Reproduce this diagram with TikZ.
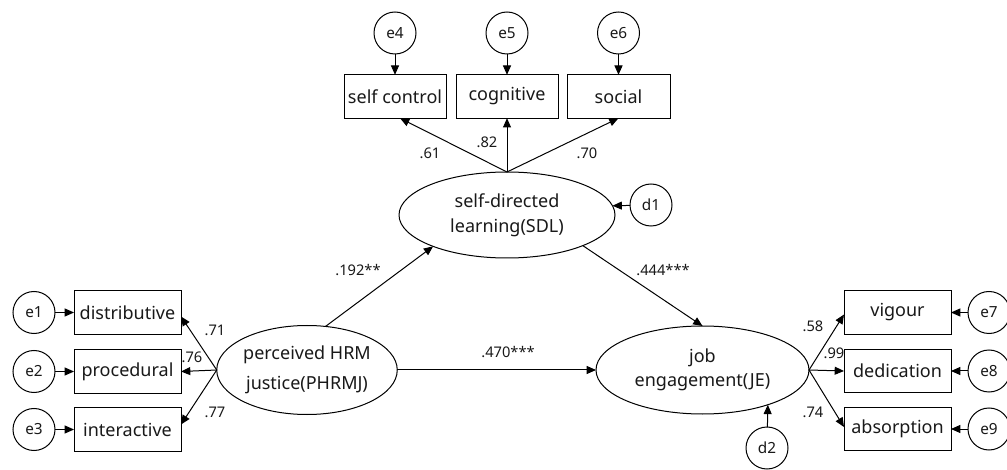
\documentclass[tikz,border=0pt]{standalone}
\usepackage{fontspec}
\setmainfont{Noto Sans}
\usetikzlibrary{shapes.geometric,arrows.meta,calc}
\begin{document}
\begin{tikzpicture}[x=0.75pt,y=-0.75pt,
  every node/.style={inner sep=0pt,outer sep=0pt,text=black!90},
  box/.style={draw,line width=0.75pt,rectangle,minimum height=32.5pt,font=\fontsize{13.5}{15}\selectfont},
  err/.style={draw,line width=0.75pt,circle,minimum size=31.5pt,font=\fontsize{11.5}{13}\selectfont},
  lat/.style={draw,line width=0.75pt,ellipse,align=center},
  lbl/.style={font=\fontsize{11}{12}\selectfont},
  arr/.style={line width=0.75pt,-{Triangle[length=7pt,width=6pt]}}]
\useasboundingbox (0,0) rectangle (1007,470);
% latent variables
\node[lat,minimum width=135pt,minimum height=66.75pt,font=\fontsize{13.5}{22.5}\selectfont] (P) at (307,370) {perceived HRM\\justice(PHRMJ)};
\node[lat,minimum width=162pt,minimum height=64.5pt,font=\fontsize{13.5}{18.75}\selectfont] (S) at (507,215) {self-directed\\learning(SDL)};
\node[lat,minimum width=159.75pt,minimum height=66pt,font=\fontsize{13.5}{18}\selectfont] (J) at (702.5,370) {job\\engagement(JE)};
% indicators
\node[box,minimum width=80.25pt] (dist) at (127.5,312.5) {distributive};
\node[box,minimum width=80.25pt] (proc) at (127.5,371.5) {procedural};
\node[box,minimum width=80.25pt] (inter) at (127.5,429.5) {interactive};
\node[box,minimum width=76.5pt] (sc) at (395,96.5) {self control};
\node[box,minimum width=76.5pt] (cog) at (507,96.5) {cognitive};
\node[box,minimum width=77.25pt] (soc) at (618.5,96.5) {social};
\node[box,minimum width=80.25pt] (vig) at (897.5,312.5) {vigour};
\node[box,minimum width=80.25pt] (ded) at (897.5,371) {dedication};
\node[box,minimum width=80.25pt] (abs) at (897.5,429) {absorption};
% errors
\node[err] (e1) at (34,312.5) {e1};
\node[err] (e2) at (34,371.5) {e2};
\node[err] (e3) at (34,429.5) {e3};
\node[err] (e4) at (395,33) {e4};
\node[err] (e5) at (507,33) {e5};
\node[err] (e6) at (618.5,33) {e6};
\node[err] (e7) at (989,312.5) {e7};
\node[err] (e8) at (989,371) {e8};
\node[err] (e9) at (989,429) {e9};
\node[err] (d1) at (651,205) {d1};
\node[err] (d2) at (767,448) {d2};
% error arrows
\draw[arr] (e1) -- (dist);
\draw[arr] (e2) -- (proc);
\draw[arr] (e3) -- (inter);
\draw[arr] (e4) -- (sc);
\draw[arr] (e5) -- (cog);
\draw[arr] (e6) -- (soc);
\draw[arr] (e7) -- (vig);
\draw[arr] (e8) -- (ded);
\draw[arr] (e9) -- (abs);
\draw[arr] (d1) -- (S.5.4);
\draw[arr] (d2) -- (J.-28.5);
% loadings
\draw[arr] (P.west) -- ($(dist.east)+(0,4)$);
\draw[arr] (P.west) -- (proc.east);
\draw[arr] (P.west) -- ($(inter.east)+(0,-5)$);
\draw[arr] (S.north) -- ($(sc.south)+(5,0)$);
\draw[arr] (S.north) -- (cog.south);
\draw[arr] (S.north) -- (soc.south);
\draw[arr] (J.east) -- ($(vig.west)+(0,2)$);
\draw[arr] (J.east) -- (ded.west);
\draw[arr] (J.east) -- ($(abs.west)+(0,-2)$);
% structural paths
\draw[arr] (P.67) -- (S.203);
\draw[arr] (S.338.5) -- (J.north);
\draw[arr] (P.east) -- (J.west);
% labels
\node[lbl] (l71) at (215,330) {.71};
\node[lbl] (l76) at (192,357) {.76};
\node[lbl] (l77) at (215,412) {.77};
\node[lbl] (l61) at (430,153) {.61};
\node[lbl] (l82) at (487,142) {.82};
\node[lbl] (l70) at (587,153) {.70};
\node[lbl] (l192) at (358,270) {.192**};
\node[lbl] (l444) at (663,270) {.444***};
\node[lbl] (l470) at (508,352) {.470***};
\node[lbl] (l58) at (813,326) {.58};
\node[lbl] (l99) at (834,353) {.99};
\node[lbl] (l74) at (813,412) {.74};
\end{tikzpicture}
\end{document}
